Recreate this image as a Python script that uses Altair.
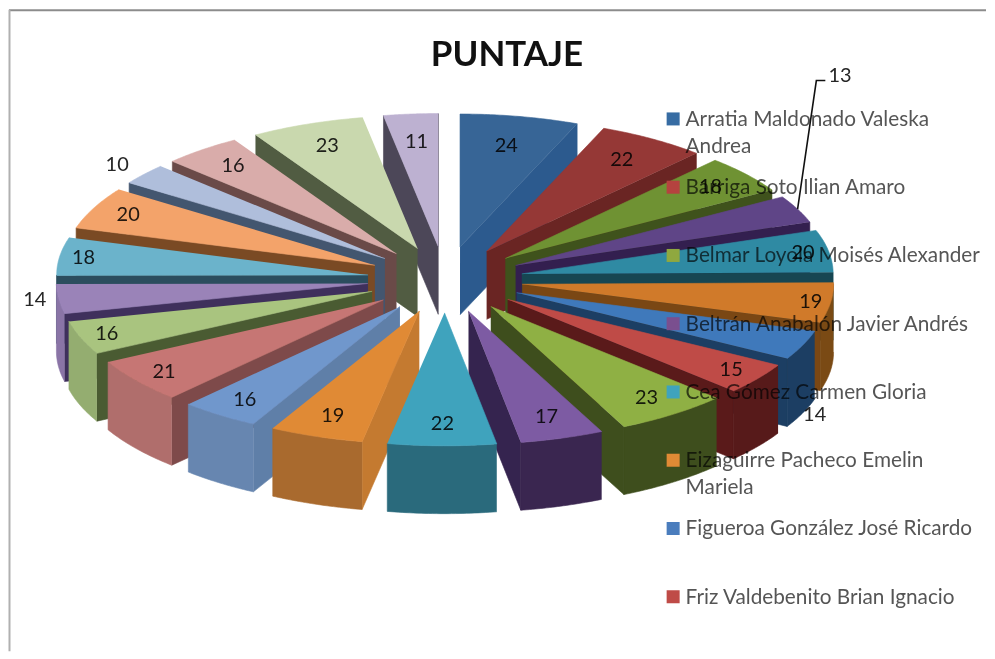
import numpy as np
import pandas as pd
import altair as alt

# ---- values
VALUES = [24, 22, 18, 13, 20, 19, 14, 15, 23, 17, 22, 19, 16, 21, 16, 14, 18, 20, 10, 16, 23, 11]
LEGEND_NAMES = [
    "Arratia Maldonado Valeska|Andrea",
    "Barriga Soto Ilian Amaro",
    "Belmar Loyola Moisés Alexander",
    "Beltrán Anabalón Javier Andrés",
    "Cea Gómez Carmen Gloria",
    "Eizaguirre Pacheco Emelin|Mariela",
    "Figueroa González José Ricardo",
    "Friz Valdebenito Brian Ignacio",
]
TITLE = "PUNTAJE"

# ---- colours
TOP = ["#376596", "#953836", "#6f9233", "#5f4587", "#2f8aa3", "#d07a2a", "#3f79bb", "#bf4b47",
       "#8fb044", "#7d5ba3", "#3fa3bd", "#e08a35", "#7097cc", "#c67674", "#a9c47f", "#9a83b8",
       "#6bb3cb", "#f3a36a", "#afbedb", "#d9acaa", "#c9d8ae", "#bdb1d1"]
SIDE = ["#2c5a8e", "#6a2523", "#3f521c", "#331f4f", "#174652", "#7a4714", "#1c3e63", "#5a1a1a",
        "#3e4e1d", "#35244f", "#2a6a7c", "#c47a30", "#5f7fa8", "#7e4a4a", "#4a5b32", "#3f305c",
        "#2b4d5e", "#7a4a24", "#43566f", "#6a4a48", "#515c42", "#4c4758"]
OUTER = ["#2c5a8e", "#6a2523", "#3f521c", "#331f4f", "#174652", "#7a4a14", "#1c3e63", "#571a1a",
         "#3e4e1d", "#3a2650", "#2a6a7c", "#a96a2e", "#6786b0", "#b06e6c", "#94ad70", "#8a74a6",
         "#2b4d5e", "#7a4a24", "#43566f", "#6a4a48", "#515c42", "#4c4758"]
LEGEND_COLORS = ["#376ca3", "#b5433f", "#8fa83f", "#7a4f8f", "#3fa3bd", "#e08a35", "#4a7dbd", "#bf4b47"]

# ---- projection of the tilted, exploded pie
W, H = 979, 643
CX, CY = 445, 278.5
R, EXPLODE, TILT, DEPTH = 312, 78, 0.427, 68
LABEL_R = [320, 332, 344, 437, 364, 370, 403, 357, 344, 338, 340, 340, 346, 355, 362, 414, 366, 352,
           425, 340, 334, 325]
LABEL_DROP = {3: -125, 6: 68}


def project(angle, radius, bis, drop=0.0):
    a, b = np.radians(angle), np.radians(bis)
    x = CX + EXPLODE * np.sin(b) + radius * np.sin(a)
    y = CY - TILT * (EXPLODE * np.cos(b) + radius * np.cos(a)) + drop
    return x, y


vals = np.array(VALUES, dtype=float)
ends = np.cumsum(vals) / vals.sum() * 360
starts = ends - vals / vals.sum() * 360
mids = (starts + ends) / 2

rows = []
poly = 0


def add_polygon(xs, ys, colour):
    global poly
    for k, (px, py) in enumerate(zip(xs, ys)):
        rows.append({"poly": poly, "orden": k, "x": float(px), "y": float(py), "color": colour})
    poly += 1


for i in np.argsort(-np.cos(np.radians(mids))):
    s, e, m = starts[i], ends[i], mids[i]
    ax, ay = project(m, 0, m)
    # radial walls that face the viewer
    if e % 360 < 180:
        ox, oy = project(e, R, m)
        add_polygon([ax, ox, ox, ax], [ay, oy, oy + DEPTH, ay + DEPTH], SIDE[i])
    if s % 360 > 180:
        ox, oy = project(s, R, m)
        add_polygon([ax, ox, ox, ax], [ay, oy, oy + DEPTH, ay + DEPTH], SIDE[i])
    # outer wall
    lo, hi = max(s, 90), min(e, 270)
    if hi > lo:
        t = np.linspace(lo, hi, 30)
        ox, oy = project(t, R, m)
        add_polygon(np.r_[ox, ox[::-1]], np.r_[oy, (oy + DEPTH)[::-1]], OUTER[i])
    # top face
    t = np.linspace(s, e, 40)
    ox, oy = project(t, R, m)
    add_polygon(np.r_[ax, ox], np.r_[ay, oy], TOP[i])

pie = pd.DataFrame(rows)

lab = []
for i, v in enumerate(VALUES):
    lx, ly = project(mids[i], LABEL_R[i] - EXPLODE, mids[i], LABEL_DROP.get(i, 0))
    lab.append({"x": float(lx), "y": float(ly), "v": str(v)})
labels = pd.DataFrame(lab)

# leader line of the "13" label, starting on the slice's rim
lead_x, lead_y = project(mids[3], R, mids[3])
leader = pd.DataFrame({
    "x": [float(lead_x), 817.0, 826.0],
    "y": [float(lead_y), 79.0, 79.0],
    "orden": [0, 1, 2],
})

LEGEND_Y0, LEGEND_STEP = 117.5, 68.4
legend = pd.DataFrame({
    "x": [673.5] * len(LEGEND_NAMES),
    "tx": [686.0] * len(LEGEND_NAMES),
    "y": [LEGEND_Y0 + k * LEGEND_STEP for k in range(len(LEGEND_NAMES))],
    "name": LEGEND_NAMES,
    "color": LEGEND_COLORS,
})
legend["ty"] = legend["y"] + 7

# picture frame: top and left edges only
frame = pd.DataFrame({
    "x": [8.0, 8.5],
    "x2": [8.0 + W, 8.5],
    "y": [8.5, 8.0],
    "y2": [8.5, 8.0 + H],
    "color": ["#8c8c8c", "#b0b0b0"],
})

xs = alt.Scale(domain=[8, 8 + W], range=[0, W])
ys = alt.Scale(domain=[8, 8 + H], range=[0, H])
X = lambda f: alt.X(f, type="quantitative", scale=xs, axis=None)
Y = lambda f: alt.Y(f, type="quantitative", scale=ys, axis=None)

edges = alt.Chart(frame).mark_rule(strokeWidth=2).encode(
    x=X("x"), x2="x2:Q", y=Y("y"), y2="y2:Q", stroke=alt.Stroke("color:N", scale=None)
)
polys = alt.Chart(pie).mark_line(strokeWidth=0.6, interpolate="linear").encode(
    x=X("x"), y=Y("y"),
    detail="poly:N",
    order="orden:Q",
    fill=alt.Fill("color:N", scale=None),
    stroke=alt.Stroke("color:N", scale=None),
)
lead = alt.Chart(leader).mark_line(color="#111111", strokeWidth=1.6).encode(x=X("x"), y=Y("y"), order="orden:Q")
swatch = alt.Chart(legend).mark_square(size=170, opacity=1).encode(
    x=X("x"), y=Y("y"), fill=alt.Fill("color:N", scale=None), stroke=alt.value(None)
)
names = alt.Chart(legend).mark_text(
    font="Lato", fontSize=20.8, align="left", baseline="alphabetic", lineBreak="|", lineHeight=27,
    color="#555555", blend="multiply",
).encode(x=X("tx"), y=Y("ty"), text="name:N")
values = alt.Chart(labels).mark_text(font="Lato", fontSize=20, color="#262626", blend="multiply").encode(
    x=X("x"), y=Y("y"), text="v:N"
)
title = alt.Chart(pd.DataFrame({"x": [507.0], "y": [53.0], "t": [TITLE]})).mark_text(
    font="Lato", fontSize=35, fontWeight="bold", color="#111111"
).encode(x=X("x"), y=Y("y"), text="t:N")

chart = alt.layer(edges, polys, swatch, names, lead, values, title).properties(
    width=W, height=H, padding=0,
    background="white",
).configure_view(stroke=None)

chart.save("out.html", embed_options={"renderer": "svg", "actions": False})
